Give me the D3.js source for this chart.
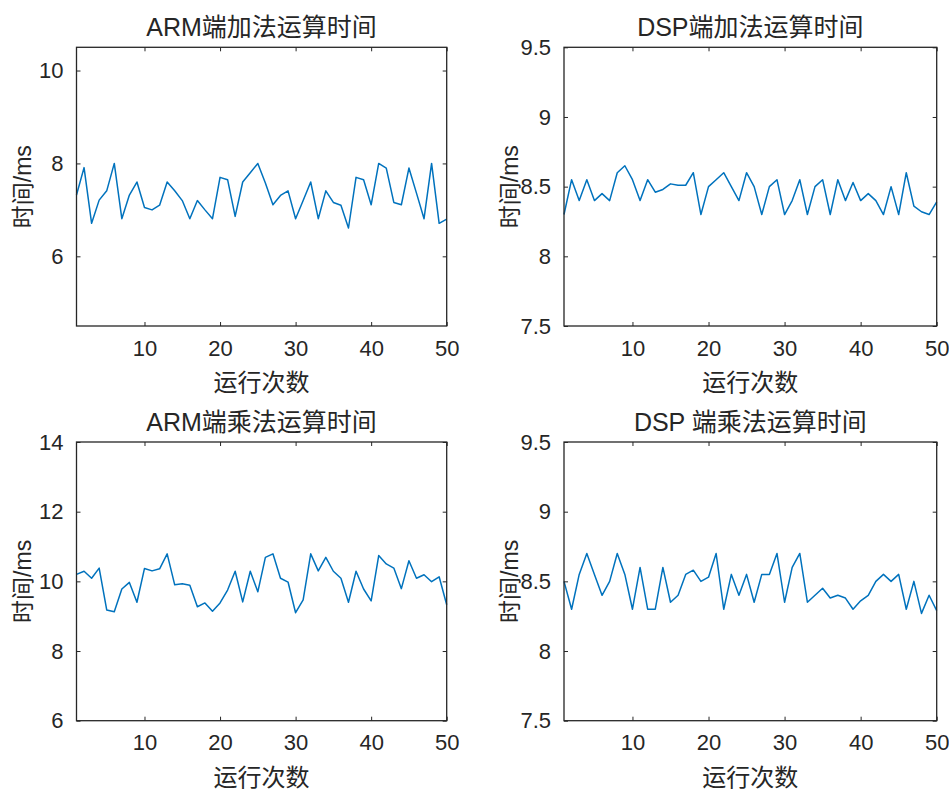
<!DOCTYPE html>
<html>
<head>
<meta charset="utf-8">
<script src="https://cdn.jsdelivr.net/npm/d3@7"></script>
<style>
  body { margin: 0; background: #fff; }
  text { font-family: "Liberation Sans", Arial, "Noto Sans CJK SC", sans-serif; fill: #262626; }
</style>
</head>
<body>
<div id="vis"></div>
<script>
// run index 1..50
var runs = d3.range(1, 51);
var xTicks = [10, 20, 30, 40, 50];

var armAdd = [7.32, 7.91, 6.71, 7.21, 7.41, 8.0, 6.81, 7.32, 7.6, 7.05,
              7.0, 7.1, 7.6, 7.41, 7.2, 6.81, 7.2, 7.0, 6.81, 7.7,
              7.65, 6.86, 7.6, 7.8, 8.0, 7.58, 7.11, 7.31, 7.41, 6.81,
              7.2, 7.6, 6.81, 7.41, 7.16, 7.1, 6.61, 7.7, 7.65, 7.11,
              8.0, 7.9, 7.16, 7.11, 7.9, 7.36, 6.81, 8.0, 6.71, 6.8];
var dspAdd = [8.3, 8.55, 8.4, 8.55, 8.4, 8.45, 8.4, 8.6, 8.65, 8.55,
              8.4, 8.55, 8.46, 8.48, 8.52, 8.51, 8.51, 8.6, 8.3, 8.5,
              8.55, 8.6, 8.5, 8.4, 8.6, 8.5, 8.3, 8.5, 8.55, 8.3,
              8.4, 8.55, 8.3, 8.5, 8.55, 8.3, 8.55, 8.4, 8.53, 8.4,
              8.45, 8.4, 8.3, 8.5, 8.3, 8.6, 8.36, 8.32, 8.3, 8.39];
var armMul = [10.2, 10.29, 10.09, 10.38, 9.18, 9.13, 9.78, 9.97, 9.4, 10.37,
              10.3, 10.36, 10.79, 9.9, 9.93, 9.89, 9.27, 9.38, 9.14, 9.38,
              9.75, 10.29, 9.41, 10.29, 9.7, 10.69, 10.79, 10.09, 9.98, 9.1,
              9.47, 10.79, 10.3, 10.69, 10.29, 10.09, 9.4, 10.29, 9.78, 9.44,
              10.74, 10.5, 10.38, 9.79, 10.59, 10.09, 10.19, 9.99, 10.13, 9.33];
var dspMul = [8.5, 8.3, 8.55, 8.7, 8.55, 8.4, 8.5, 8.7, 8.55, 8.3,
              8.6, 8.3, 8.3, 8.6, 8.35, 8.4, 8.55, 8.58, 8.5, 8.53,
              8.7, 8.3, 8.55, 8.4, 8.55, 8.35, 8.55, 8.55, 8.7, 8.35,
              8.6, 8.7, 8.35, 8.4, 8.45, 8.38, 8.4, 8.38, 8.3, 8.36,
              8.4, 8.5, 8.55, 8.5, 8.55, 8.3, 8.5, 8.27, 8.4, 8.29];

var titles = ['ARM端加法运算时间', 'DSP端加法运算时间', 'ARM端乘法运算时间', 'DSP 端乘法运算时间'];
var yDomains = [[4.5, 10.5], [7.5, 9.5], [6, 14], [7.5, 9.5]];
var yTicks = [[6, 8, 10], [7.5, 8, 8.5, 9, 9.5], [6, 8, 10, 12, 14], [7.5, 8, 8.5, 9, 9.5]];
var series = [armAdd, dspAdd, armMul, dspMul];
var xLabel = '运行次数';
var yLabel = '时间/ms';

var svg = d3.select('#vis')
    .append('svg')
    .attr('width', 949)
    .attr('height', 792);

var boxes = [
    {left: 76.5, right: 446.7, top: 47.3, bottom: 326},
    {left: 564, right: 936.7, top: 47.3, bottom: 326},
    {left: 76.5, right: 446.7, top: 442, bottom: 720.7},
    {left: 564, right: 936.7, top: 442, bottom: 720.7}
];

var axisColor = '#262626';
var tickLen = 4;

var drawPanel = function(i) {
    var b = boxes[i];
    var width = b.right - b.left;
    var height = b.bottom - b.top;
    var xScale = d3.scaleLinear().domain([1, 50]).range([0, width]);
    var yScale = d3.scaleLinear().domain(yDomains[i]).range([height, 0]);

    var g = svg.append('g')
        .attr('transform', 'translate(' + b.left + ',' + b.top + ')');

    // the line
    var line = d3.line()
        .x(function(d, k) { return xScale(runs[k]); })
        .y(function(d) { return yScale(d); });

    g.append('path')
        .datum(series[i])
        .attr('d', line)
        .attr('fill', 'none')
        .attr('stroke', '#0072BD')
        .attr('stroke-width', 1.5)
        .attr('stroke-linejoin', 'round');

    // axes, ticks inward on all 4 sides
    var fmt = function(d) { return String(d); };
    var xBottom = d3.axisBottom(xScale).tickValues(xTicks).tickSizeInner(-tickLen).tickSizeOuter(0).tickPadding(14).tickFormat(fmt);
    var xTop = d3.axisTop(xScale).tickValues(xTicks).tickSizeInner(-tickLen).tickSizeOuter(0).tickFormat('');
    var yLeft = d3.axisLeft(yScale).tickValues(yTicks[i]).tickSizeInner(-tickLen).tickSizeOuter(0).tickPadding(13).tickFormat(fmt);
    var yRight = d3.axisRight(yScale).tickValues(yTicks[i]).tickSizeInner(-tickLen).tickSizeOuter(0).tickFormat('');

    var styleAxis = function(a) {
        a.select('.domain').remove();
        a.selectAll('line').attr('stroke', axisColor).attr('stroke-width', 1);
        a.selectAll('text').attr('fill', axisColor).style('font-size', '22px')
            .style('font-family', '"Liberation Sans", Arial, sans-serif');
    };

    g.append('g').attr('transform', 'translate(0,' + height + ')').call(xBottom).call(styleAxis);
    g.append('g').call(xTop).call(styleAxis);
    g.append('g').call(yLeft).call(styleAxis);
    g.append('g').attr('transform', 'translate(' + width + ',0)').call(yRight).call(styleAxis);

    g.append('rect')
        .attr('x', 0).attr('y', 0)
        .attr('width', width).attr('height', height)
        .attr('fill', 'none')
        .attr('stroke', axisColor)
        .attr('stroke-width', 1.3);

    g.append('text')
        .attr('x', width / 2)
        .attr('y', -11)
        .attr('text-anchor', 'middle')
        .style('font-size', '25px')
        .text(titles[i]);

    g.append('text')
        .attr('x', width / 2)
        .attr('y', height + 65)
        .attr('text-anchor', 'middle')
        .style('font-size', '24px')
        .text(xLabel);

    g.append('text')
        .attr('transform', 'translate(' + (-54) + ',' + (height / 2) + ')rotate(-90)')
        .attr('dy', '0.35em')
        .attr('text-anchor', 'middle')
        .style('font-size', '23px')
        .text(yLabel);
};

for (var i = 0; i < 4; i++) {
    drawPanel(i);
}
</script>
</body>
</html>
